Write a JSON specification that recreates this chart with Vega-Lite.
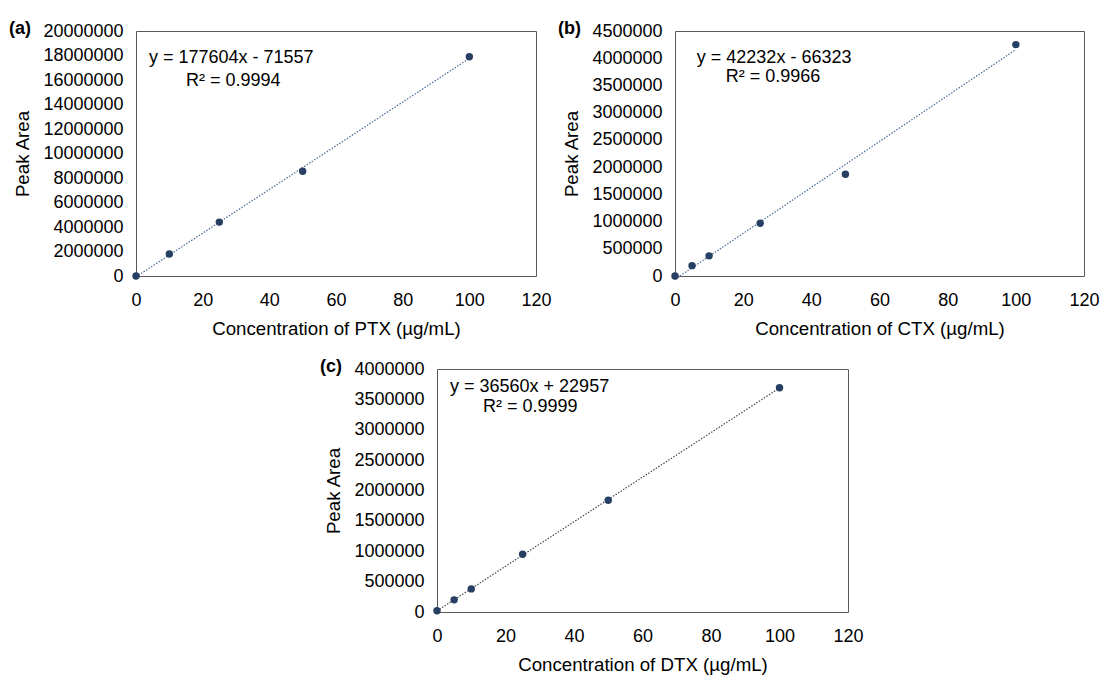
{
  "$schema": "https://vega.github.io/schema/vega-lite/v6.json",
  "padding": {"left": 8, "top": 19, "right": 0, "bottom": 5},
  "background": "white",
  "spacing": 18,
  "config": {
    "font": "Liberation Sans",
    "view": {"stroke": "#595959", "strokeWidth": 1},
    "axis": {"grid": false, "ticks": false, "domain": false, "labelOverlap": false, "labelFlush": false, "labelFont": "Liberation Sans", "labelFontSize": 18, "labelColor": "#000000", "titleFont": "Liberation Sans", "titleFontSize": 18.7, "titleFontWeight": "normal", "titleColor": "#000000"},
    "axisX": {"labelPadding": 15, "titlePadding": 10},
    "axisY": {"labelPadding": 13, "titlePadding": 10},
    "title": {"font": "Liberation Sans", "fontSize": 18, "fontWeight": "bold", "anchor": "start", "frame": "bounds", "color": "#000000"}
  },
  "datasets": {
    "ptx": [
      {"conc": 0, "area": 0},
      {"conc": 10, "area": 1800000},
      {"conc": 25, "area": 4400000},
      {"conc": 50, "area": 8550000},
      {"conc": 100, "area": 17900000}
    ],
    "ctx": [
      {"conc": 0, "area": 0},
      {"conc": 5, "area": 190000},
      {"conc": 10, "area": 370000},
      {"conc": 25, "area": 970000},
      {"conc": 50, "area": 1870000},
      {"conc": 100, "area": 4250000}
    ],
    "dtx": [
      {"conc": 0, "area": 20000},
      {"conc": 5, "area": 200000},
      {"conc": 10, "area": 380000},
      {"conc": 25, "area": 950000},
      {"conc": 50, "area": 1840000},
      {"conc": 100, "area": 3690000}
    ],
    "eqA": [{"label": "y = 177604x - 71557"}],
    "r2A": [{"label": "R² = 0.9994"}],
    "eqB": [{"label": "y = 42232x - 66323"}],
    "r2B": [{"label": "R² = 0.9966"}],
    "eqC": [{"label": "y = 36560x + 22957"}],
    "r2C": [{"label": "R² = 0.9999"}]
  },
  "vconcat": [
    {
      "spacing": 5,
      "hconcat": [
        {
          "title": {"text": "(a)", "offset": -16, "dx": -5},
          "width": 400, "height": 245,
          "layer": [
            {"data": {"name": "ptx"}, "transform": [{"regression": "area", "on": "conc"}], "mark": {"type": "line", "color": "#4a6b96", "strokeWidth": 1.2, "strokeDash": [1.5, 1.5]},
             "encoding": {
               "x": {"field": "conc", "type": "quantitative", "scale": {"domain": [0, 120], "nice": false}, "axis": {"values": [0, 20, 40, 60, 80, 100, 120], "title": "Concentration of PTX (µg/mL)"}},
               "y": {"field": "area", "type": "quantitative", "scale": {"domain": [0, 20000000], "nice": false}, "axis": {"values": [0, 2000000, 4000000, 6000000, 8000000, 10000000, 12000000, 14000000, 16000000, 18000000, 20000000], "format": "d", "title": "Peak Area"}}
             }},
            {"data": {"name": "ptx"}, "mark": {"type": "point", "filled": true, "opacity": 1, "size": 55, "color": "#263f62"},
             "encoding": {
               "x": {"field": "conc", "type": "quantitative", "axis": {"values": [0, 20, 40, 60, 80, 100, 120], "title": "Concentration of PTX (µg/mL)"}},
               "y": {"field": "area", "type": "quantitative", "axis": {"values": [0, 2000000, 4000000, 6000000, 8000000, 10000000, 12000000, 14000000, 16000000, 18000000, 20000000], "format": "d", "title": "Peak Area"}}
             }},
            {"data": {"name": "eqA"}, "mark": {"type": "text", "align": "left", "baseline": "middle", "font": "Liberation Sans", "fontSize": 18, "color": "#000000"},
             "encoding": {
               "x": {"datum": 3.9, "type": "quantitative", "axis": {"values": [0, 20, 40, 60, 80, 100, 120], "title": "Concentration of PTX (µg/mL)"}},
               "y": {"datum": 17800000, "type": "quantitative", "axis": {"values": [0, 2000000, 4000000, 6000000, 8000000, 10000000, 12000000, 14000000, 16000000, 18000000, 20000000], "format": "d", "title": "Peak Area"}},
               "text": {"field": "label", "type": "nominal"}}},
            {"data": {"name": "r2A"}, "mark": {"type": "text", "align": "left", "baseline": "middle", "font": "Liberation Sans", "fontSize": 18, "color": "#000000"},
             "encoding": {
               "x": {"datum": 15, "type": "quantitative", "axis": {"values": [0, 20, 40, 60, 80, 100, 120], "title": "Concentration of PTX (µg/mL)"}},
               "y": {"datum": 15900000, "type": "quantitative", "axis": {"values": [0, 2000000, 4000000, 6000000, 8000000, 10000000, 12000000, 14000000, 16000000, 18000000, 20000000], "format": "d", "title": "Peak Area"}},
               "text": {"field": "label", "type": "nominal"}}}
          ]
        },
        {
          "title": {"text": "(b)", "offset": -16, "dx": -5},
          "width": 409, "height": 245,
          "layer": [
            {"data": {"name": "ctx"}, "transform": [{"regression": "area", "on": "conc"}], "mark": {"type": "line", "color": "#4a6b96", "strokeWidth": 1.2, "strokeDash": [1.5, 1.5]},
             "encoding": {
               "x": {"field": "conc", "type": "quantitative", "scale": {"domain": [0, 120], "nice": false}, "axis": {"values": [0, 20, 40, 60, 80, 100, 120], "title": "Concentration of CTX (µg/mL)"}},
               "y": {"field": "area", "type": "quantitative", "scale": {"domain": [0, 4500000], "nice": false}, "axis": {"values": [0, 500000, 1000000, 1500000, 2000000, 2500000, 3000000, 3500000, 4000000, 4500000], "format": "d", "title": "Peak Area"}}
             }},
            {"data": {"name": "ctx"}, "mark": {"type": "point", "filled": true, "opacity": 1, "size": 55, "color": "#263f62"},
             "encoding": {
               "x": {"field": "conc", "type": "quantitative", "axis": {"values": [0, 20, 40, 60, 80, 100, 120], "title": "Concentration of CTX (µg/mL)"}},
               "y": {"field": "area", "type": "quantitative", "axis": {"values": [0, 500000, 1000000, 1500000, 2000000, 2500000, 3000000, 3500000, 4000000, 4500000], "format": "d", "title": "Peak Area"}}
             }},
            {"data": {"name": "eqB"}, "mark": {"type": "text", "align": "left", "baseline": "middle", "font": "Liberation Sans", "fontSize": 18, "color": "#000000"},
             "encoding": {
               "x": {"datum": 6.4, "type": "quantitative", "axis": {"values": [0, 20, 40, 60, 80, 100, 120], "title": "Concentration of CTX (µg/mL)"}},
               "y": {"datum": 4010000, "type": "quantitative", "axis": {"values": [0, 500000, 1000000, 1500000, 2000000, 2500000, 3000000, 3500000, 4000000, 4500000], "format": "d", "title": "Peak Area"}},
               "text": {"field": "label", "type": "nominal"}}},
            {"data": {"name": "r2B"}, "mark": {"type": "text", "align": "left", "baseline": "middle", "font": "Liberation Sans", "fontSize": 18, "color": "#000000"},
             "encoding": {
               "x": {"datum": 14.9, "type": "quantitative", "axis": {"values": [0, 20, 40, 60, 80, 100, 120], "title": "Concentration of CTX (µg/mL)"}},
               "y": {"datum": 3650000, "type": "quantitative", "axis": {"values": [0, 500000, 1000000, 1500000, 2000000, 2500000, 3000000, 3500000, 4000000, 4500000], "format": "d", "title": "Peak Area"}},
               "text": {"field": "label", "type": "nominal"}}}
          ]
        }
      ]
    },
    {
      "spacing": 0,
      "hconcat": [
        {
          "width": 183, "height": 10,
          "view": {"stroke": null},
          "data": {"values": []},
          "mark": "point"
        },
        {
          "title": {"text": "(c)", "offset": -16, "dx": -5},
          "width": 411, "height": 243,
          "layer": [
            {"data": {"name": "dtx"}, "transform": [{"regression": "area", "on": "conc"}], "mark": {"type": "line", "color": "#404a58", "strokeWidth": 1.2, "strokeDash": [1.5, 1.5]},
             "encoding": {
               "x": {"field": "conc", "type": "quantitative", "scale": {"domain": [0, 120], "nice": false}, "axis": {"values": [0, 20, 40, 60, 80, 100, 120], "title": "Concentration of DTX (µg/mL)"}},
               "y": {"field": "area", "type": "quantitative", "scale": {"domain": [0, 4000000], "nice": false}, "axis": {"values": [0, 500000, 1000000, 1500000, 2000000, 2500000, 3000000, 3500000, 4000000], "format": "d", "title": "Peak Area"}}
             }},
            {"data": {"name": "dtx"}, "mark": {"type": "point", "filled": true, "opacity": 1, "size": 55, "color": "#263f62"},
             "encoding": {
               "x": {"field": "conc", "type": "quantitative", "axis": {"values": [0, 20, 40, 60, 80, 100, 120], "title": "Concentration of DTX (µg/mL)"}},
               "y": {"field": "area", "type": "quantitative", "axis": {"values": [0, 500000, 1000000, 1500000, 2000000, 2500000, 3000000, 3500000, 4000000], "format": "d", "title": "Peak Area"}}
             }},
            {"data": {"name": "eqC"}, "mark": {"type": "text", "align": "left", "baseline": "middle", "font": "Liberation Sans", "fontSize": 18, "color": "#000000"},
             "encoding": {
               "x": {"datum": 3.8, "type": "quantitative", "axis": {"values": [0, 20, 40, 60, 80, 100, 120], "title": "Concentration of DTX (µg/mL)"}},
               "y": {"datum": 3700000, "type": "quantitative", "axis": {"values": [0, 500000, 1000000, 1500000, 2000000, 2500000, 3000000, 3500000, 4000000], "format": "d", "title": "Peak Area"}},
               "text": {"field": "label", "type": "nominal"}}},
            {"data": {"name": "r2C"}, "mark": {"type": "text", "align": "left", "baseline": "middle", "font": "Liberation Sans", "fontSize": 18, "color": "#000000"},
             "encoding": {
               "x": {"datum": 13.4, "type": "quantitative", "axis": {"values": [0, 20, 40, 60, 80, 100, 120], "title": "Concentration of DTX (µg/mL)"}},
               "y": {"datum": 3380000, "type": "quantitative", "axis": {"values": [0, 500000, 1000000, 1500000, 2000000, 2500000, 3000000, 3500000, 4000000], "format": "d", "title": "Peak Area"}},
               "text": {"field": "label", "type": "nominal"}}}
          ]
        }
      ]
    }
  ]
}
